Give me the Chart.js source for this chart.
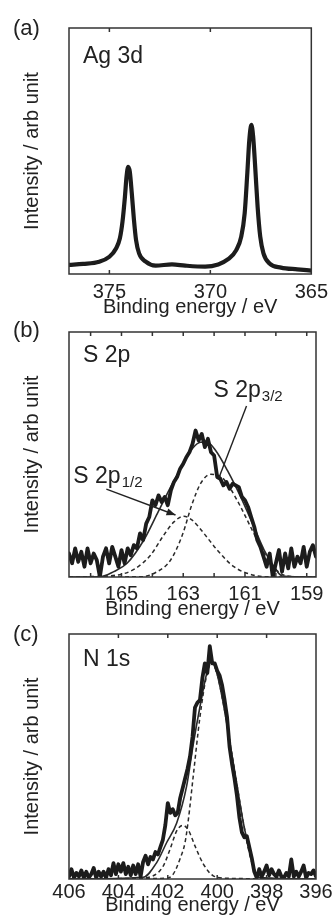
<!DOCTYPE html>
<html>
<head>
<meta charset="utf-8">
<script src="https://cdn.jsdelivr.net/npm/chart.js@4.4.0/dist/chart.umd.min.js"></script>
<style>
html,body{margin:0;padding:0;background:#fff;}
body{width:334px;height:924px;position:relative;overflow:hidden;}
canvas{position:absolute;left:0;top:0;}
</style>
</head>
<body>
<canvas id="ca" width="334" height="924"></canvas>
<canvas id="cb" width="334" height="924"></canvas>
<canvas id="cc" width="334" height="924"></canvas>
<script>
// ---------- (a) Ag 3d ----------
const agEnergy = [377.0, 376.3, 375.5, 375.0, 374.67, 374.48, 374.35, 374.23, 374.15, 374.07, 373.99, 373.89, 373.79, 373.68, 373.53, 373.2, 372.71, 371.9, 371.24, 370.26, 369.61, 369.12, 368.71, 368.47, 368.3, 368.17, 368.07, 367.97, 367.88, 367.78, 367.66, 367.53, 367.37, 367.07, 366.5, 365.69, 365.0];
const agIntensity = [3.7, 4.1, 5.0, 7.0, 10.4, 14.5, 21.3, 31.4, 39.6, 43.6, 41.6, 32.8, 22.6, 13.8, 8.4, 5.0, 3.4, 3.9, 3.4, 3.0, 3.9, 6.0, 9.8, 15.2, 24.7, 40.9, 54.5, 60.6, 55.8, 43.6, 27.4, 15.2, 8.4, 4.3, 2.6, 1.9, 1.4];
const agTicks = [375, 370, 365];

// ---------- (b) S 2p ----------
const sEnergy = [166.7,166.6,166.5,166.4,166.3,166.2,166.1,166.0,165.9,165.8,165.7,165.6,165.5,165.4,165.3,165.2,165.1,165.0,164.9,164.8,164.7,164.6,164.5,164.4,164.3,164.2,164.1,164.0,163.9,163.8,163.7,163.6,163.5,163.4,163.3,163.2,163.1,163.0,162.9,162.8,162.7,162.6,162.5,162.4,162.3,162.2,162.1,162.0,161.9,161.8,161.7,161.6,161.5,161.4,161.3,161.2,161.1,161.0,160.9,160.8,160.7,160.6,160.5,160.4,160.3,160.2,160.1,160.0,159.9,159.8,159.7,159.6,159.5,159.4,159.3,159.2,159.1,159.0,158.9,158.8,158.7];
const sIntensity = [9.6,5.6,11.7,6.2,10.3,4.2,11.7,5.6,9.6,6.9,0.1,8.3,11.7,5.6,12.3,8.3,4.2,11.0,5.6,11.7,8.9,13.0,11.7,17.8,15.0,21.8,24.5,31.3,29.3,33.3,30.6,32.7,29.3,35.4,38.8,40.8,44.2,46.2,48.9,50.9,54.3,59.8,55.7,58.4,53.0,56.4,50.9,49.6,40.8,40.1,37.4,38.8,36.0,38.1,37.4,36.7,32.7,31.3,28.6,24.5,20.5,15.0,12.3,8.3,4.2,9.6,0.1,5.6,11.0,2.2,9.6,3.5,11.7,4.2,8.3,5.6,12.3,4.2,10.3,13.0,8.3];
const sFitEnergy = [166.7, 165.68, 165.25, 164.82, 164.28, 163.84, 163.41, 163.03, 162.71, 162.44, 162.22, 161.95, 161.57, 161.14, 160.71, 160.38, 160.06, 159.79, 158.7];
const sFitIntensity = [0, 0.1, 2.2, 5.6, 15.0, 25.9, 36.7, 45.5, 52.3, 55.0, 55.0, 51.6, 43.5, 32.7, 20.5, 11.0, 4.2, 0.4, 0];
const s12Energy = [166.7, 166.22, 165.14, 164.6, 164.06, 163.63, 163.3, 162.98, 162.71, 162.33, 161.9, 161.36, 160.71, 160.28, 158.7];
const s12Intensity = [0, 0.1, 0.8, 3.1, 8.9, 17.1, 22.5, 24.8, 23.2, 17.8, 11.0, 4.2, 0.7, 0.1, 0];
const s32Energy = [166.7, 164.38, 163.84, 163.41, 163.03, 162.71, 162.44, 162.11, 161.79, 161.47, 161.14, 160.82, 160.49, 160.17, 159.85, 159.41, 158.7];
const s32Intensity = [0, 0.1, 2.2, 6.9, 17.1, 29.9, 38.1, 41.9, 41.1, 36.0, 28.6, 20.5, 12.3, 5.6, 1.5, 0.1, 0];
const sTicks = [166, 165, 164, 163, 162, 161, 160, 159];
const sTickLabels = ['', '165', '', '163', '', '161', '', '159'];

// ---------- (c) N 1s ----------
const nEnergy = [406.0,405.9,405.8,405.7,405.6,405.5,405.4,405.3,405.2,405.1,405.0,404.9,404.8,404.7,404.6,404.5,404.4,404.3,404.2,404.1,404.0,403.9,403.8,403.7,403.6,403.5,403.4,403.3,403.2,403.1,403.0,402.9,402.8,402.7,402.6,402.5,402.4,402.3,402.2,402.1,402.0,401.9,401.8,401.7,401.6,401.5,401.4,401.3,401.2,401.1,401.0,400.9,400.8,400.7,400.6,400.5,400.4,400.3,400.2,400.1,400.0,399.9,399.8,399.7,399.6,399.5,399.4,399.3,399.2,399.1,399.0,398.9,398.8,398.7,398.6,398.5,398.4,398.3,398.2,398.1,398.0,397.9,397.8,397.7,397.6,397.5,397.4,397.3,397.2,397.1,397.0,396.9,396.8,396.7,396.6,396.5,396.4,396.3,396.2,396.1,396.0];
const nIntensity = [1,4,0.5,2.5,1,3.5,0.5,3,0.5,2,4.5,0.5,3,1,3,0.5,4,1.5,6.5,2,6,3,6.5,2,5,1.5,5.5,2,6,1,7,9.5,6,9,8,11,10,13,16,22,31,27,28.5,26,27,33,37,41,45,50,58,70,72,73,82,88,84,95,88,88,85,83,79,73,66,54,47,41,34,25,19,17,17.5,13,8.5,3,0.5,4,1,3,5.5,1.5,4,2,1,3.5,1,0.5,2.5,1,8,1,3,1,3,5.5,0.5,2.5,2,3.5,1];
const nFitEnergy = [406, 403.0, 402.45, 402.05, 401.64, 401.24, 400.97, 400.7, 400.43, 400.22, 400.02, 399.75, 399.48, 399.21, 398.94, 398.74, 398.54, 398.34, 396];
const nFitIntensity = [0, 0.7, 6.7, 14.8, 22.9, 37.8, 55.0, 70.2, 83.7, 89.1, 84.3, 71.5, 55.3, 39.1, 22.9, 13.5, 5.4, 0.7, 0];
const nMainEnergy = [406, 402.05, 401.78, 401.51, 401.3, 401.17, 400.97, 400.7, 400.43, 400.22, 400.02, 399.75, 399.48, 399.21, 398.94, 398.67, 398.4, 398.0, 396];
const nMainIntensity = [0, 0.3, 2.0, 8.1, 15.0, 24.0, 42.0, 66.0, 83.0, 88.4, 84.3, 71.5, 55.3, 39.1, 22.9, 9.4, 2.0, 0.3, 0];
const nMinorEnergy = [406, 403.3, 402.59, 402.18, 401.91, 401.64, 401.4, 401.17, 400.9, 400.56, 400.16, 399.62, 396];
const nMinorIntensity = [0, 0.3, 1.3, 5.4, 12.1, 19.6, 21.9, 20.0, 13.5, 6.1, 1.3, 0.3, 0];
const nTicks = [406, 404, 402, 400, 398, 396];

// ---------- rendering ----------
const FONT = "'Liberation Sans', Arial, Helvetica, sans-serif";
Chart.defaults.font.family = FONT;
Chart.defaults.color = '#222';

const framePlugin = {
  id: 'frame',
  afterDatasetsDraw(chart) {
    const {ctx, chartArea: a, scales: {x}} = chart;
    ctx.save();
    ctx.strokeStyle = '#333';
    ctx.lineWidth = 1.5;
    ctx.strokeRect(a.left, a.top, a.right - a.left, a.bottom - a.top);
    x.ticks.forEach(t => {
      const px = x.getPixelForValue(t.value);
      if (px <= a.left + 1 || px >= a.right - 1) return;
      ctx.beginPath();
      ctx.moveTo(px, a.top); ctx.lineTo(px, a.top + 4);
      ctx.moveTo(px, a.bottom); ctx.lineTo(px, a.bottom - 4);
      ctx.stroke();
    });
    ctx.restore();
  }
};

const textPlugin = {
  id: 'panelText',
  afterDraw(chart, args, o) {
    const {ctx, chartArea: a, scales: {x, y}} = chart;
    ctx.save();
    ctx.fillStyle = '#222';
    ctx.strokeStyle = '#222';
    ctx.textBaseline = 'alphabetic';
    ctx.textAlign = 'left';
    ctx.font = '22px ' + FONT;
    ctx.fillText(o.letter, 13, a.top + o.letterDy);
    ctx.font = '23px ' + FONT;
    ctx.fillText(o.label, a.left + 14, a.top + o.labelDy);
    (o.notes || []).forEach(n => {
      const tx = x.getPixelForValue(n.x), ty = y.getPixelForValue(n.y);
      ctx.font = '23px ' + FONT;
      ctx.fillText(n.text, tx, ty);
      const w = ctx.measureText(n.text).width;
      ctx.font = '15px ' + FONT;
      ctx.fillText(n.sub, tx + w + 1, ty + 4);
      const x1 = x.getPixelForValue(n.from[0]), y1 = y.getPixelForValue(n.from[1]);
      const x2 = x.getPixelForValue(n.to[0]), y2 = y.getPixelForValue(n.to[1]);
      ctx.lineWidth = 1.4;
      ctx.beginPath(); ctx.moveTo(x1, y1); ctx.lineTo(x2, y2); ctx.stroke();
      if (n.arrow) {
        const ang = Math.atan2(y2 - y1, x2 - x1), L = 9, W = 3.5;
        ctx.beginPath();
        ctx.moveTo(x2, y2);
        ctx.lineTo(x2 - L * Math.cos(ang) + W * Math.sin(ang), y2 - L * Math.sin(ang) - W * Math.cos(ang));
        ctx.lineTo(x2 - L * Math.cos(ang) - W * Math.sin(ang), y2 - L * Math.sin(ang) + W * Math.cos(ang));
        ctx.closePath(); ctx.fill();
      }
    });
    ctx.restore();
  }
};

function series(xs, ys, style) {
  return Object.assign({
    data: xs.map((e, i) => ({x: e, y: ys[i]})),
    pointRadius: 0,
    fill: false,
    borderJoinStyle: 'round',
    borderCapStyle: 'round'
  }, style);
}

const DATA_STYLE = {borderColor: '#1c1c1c', borderWidth: 3.8, tension: 0};
const SMOOTH_DATA_STYLE = {borderColor: '#1c1c1c', borderWidth: 4.2, tension: 0.4, cubicInterpolationMode: 'monotone'};
const FIT_STYLE = {borderColor: '#2a2a2a', borderWidth: 1.6, tension: 0.4, cubicInterpolationMode: 'monotone'};
const DASH_STYLE = {borderColor: '#2a2a2a', borderWidth: 1.5, borderDash: [4, 3], borderCapStyle: 'butt', tension: 0.4, cubicInterpolationMode: 'monotone'};

function makePanel(id, p) {
  return new Chart(document.getElementById(id), {
    type: 'line',
    data: {datasets: p.datasets},
    plugins: [framePlugin, textPlugin],
    options: {
      responsive: false,
      animation: false,
      events: [],
      layout: {padding: {left: 0, right: 18, top: p.top, bottom: 924 - p.bottom - p.xh}},
      plugins: {legend: {display: false}, tooltip: {enabled: false}, panelText: p.text},
      scales: {
        x: {
          type: 'linear', reverse: true, min: p.xmin, max: p.xmax,
          grid: {display: false, drawTicks: false},
          border: {display: false},
          afterBuildTicks: s => { s.ticks = p.ticks.map(v => ({value: v})); },
          afterFit: s => { s.height = p.xh; },
          ticks: {
            autoSkip: false, maxRotation: 0, padding: p.tickPad,
            font: {size: 20}, color: '#222',
            callback: (v, i) => p.labels ? p.labels[i] : String(v)
          },
          title: {display: true, text: 'Binding energy / eV', font: {size: 20}, color: '#222', padding: {top: 0, bottom: 0}}
        },
        y: {
          type: 'linear', min: 0, max: 100,
          grid: {display: false, drawTicks: false},
          border: {display: false},
          ticks: {display: false},
          afterFit: s => { s.width = 69; },
          title: {display: true, text: 'Intensity / arb unit', font: {size: 20}, color: '#222', padding: {top: 20, bottom: 0}}
        }
      }
    }
  });
}

makePanel('ca', {
  top: 28, bottom: 274, xh: 45, tickPad: 6, xmin: 365, xmax: 377, ticks: agTicks,
  datasets: [series(agEnergy, agIntensity, SMOOTH_DATA_STYLE)],
  text: {letter: '(a)', letterDy: 7, label: 'Ag 3d', labelDy: 35}
});

makePanel('cb', {
  top: 332, bottom: 577, xh: 44, tickPad: 5, xmin: 158.7, xmax: 166.7, ticks: sTicks, labels: sTickLabels,
  datasets: [
    series(sEnergy, sIntensity, DATA_STYLE),
    series(sFitEnergy, sFitIntensity, FIT_STYLE),
    series(s12Energy, s12Intensity, DASH_STYLE),
    series(s32Energy, s32Intensity, DASH_STYLE)
  ],
  text: {letter: '(b)', letterDy: 5, label: 'S 2p', labelDy: 30,
    notes: [
      {text: 'S 2p', sub: '3/2', x: 162.02, y: 73.5, from: [160.95, 69.8], to: [161.85, 40.3], arrow: false},
      {text: 'S 2p', sub: '1/2', x: 166.56, y: 38.4, from: [165.49, 35.9], to: [163.25, 25.3], arrow: true}
    ]}
});

makePanel('cc', {
  top: 634, bottom: 879, xh: 38, tickPad: 1, xmin: 396, xmax: 406, ticks: nTicks,
  datasets: [
    series(nEnergy, nIntensity, DATA_STYLE),
    series(nFitEnergy, nFitIntensity, FIT_STYLE),
    series(nMainEnergy, nMainIntensity, DASH_STYLE),
    series(nMinorEnergy, nMinorIntensity, DASH_STYLE)
  ],
  text: {letter: '(c)', letterDy: 7, label: 'N 1s', labelDy: 32}
});
</script>
</body>
</html>
